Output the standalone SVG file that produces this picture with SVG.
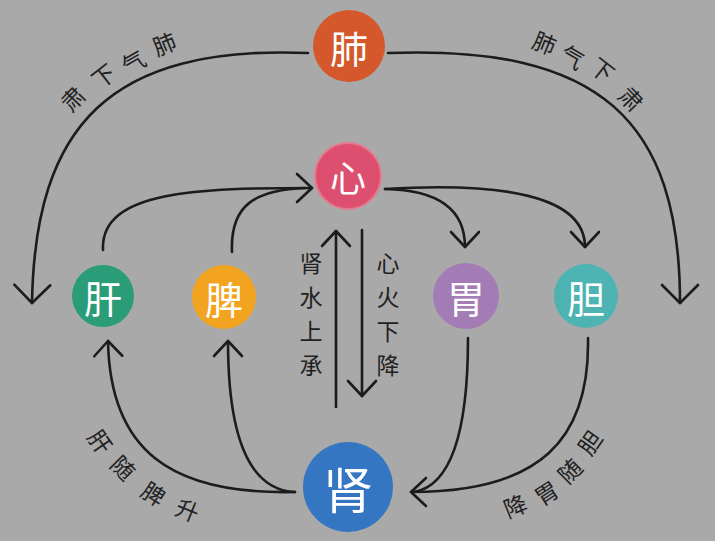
<svg xmlns="http://www.w3.org/2000/svg" width="715" height="541" viewBox="0 0 715 541">
<defs>
<style>
.bg{fill:#a9a9a9}
.ln{fill:none;stroke:#1c1c1c;stroke-width:2.6;stroke-linecap:round}
.nt{fill:#ffffff;font-family:"Noto Sans CJK SC","Noto Sans",sans-serif;text-anchor:middle;dominant-baseline:central}
.lb{fill:#222222;font-family:"Noto Sans CJK SC","Noto Sans",sans-serif;text-anchor:middle;dominant-baseline:central;font-size:23px}
.vl{fill:#222222;font-family:"Noto Sans CJK SC","Noto Sans",sans-serif;text-anchor:middle;dominant-baseline:central;font-size:23px}
</style>
<marker id="arr" markerUnits="userSpaceOnUse" markerWidth="40" markerHeight="40" viewBox="-20 -20 40 40" refX="0" refY="0" orient="auto" overflow="visible">
<path d="M -15 -14 L 0 0 L -15 14" fill="none" stroke="#1c1c1c" stroke-width="2.6" stroke-linecap="round" stroke-linejoin="round"/>
</marker>
<marker id="arrL" markerUnits="userSpaceOnUse" markerWidth="50" markerHeight="50" viewBox="-25 -25 50 50" refX="0" refY="0" orient="auto" overflow="visible">
<path d="M -18 -18 L 0 0 L -18 18" fill="none" stroke="#1c1c1c" stroke-width="2.6" stroke-linecap="round" stroke-linejoin="round"/>
</marker>
</defs>
<rect class="bg" x="0" y="0" width="715" height="541"/>

<g id="connectors">
<path class="ln" d="M 308 53 C 110 45, 35 125, 32 303" marker-end="url(#arrL)"/>
<path class="ln" d="M 388 53 C 600 45, 680 120, 680 303" marker-end="url(#arrL)"/>
<path class="ln" d="M 103 250 C 100 190, 200 188, 312 188" marker-end="url(#arr)"/>
<path class="ln" d="M 232 252 C 230 205, 255 190, 305 188"/>
<path class="ln" d="M 385 189 C 440 190, 465 210, 465 247" marker-end="url(#arr)"/>
<path class="ln" d="M 385 189 C 500 182, 585 195, 585 247" marker-end="url(#arr)"/>
<path class="ln" d="M 336 407 L 336 231" marker-end="url(#arr)"/>
<path class="ln" d="M 362 230 L 362 396" marker-end="url(#arr)"/>
<path class="ln" d="M 468 338 C 468 420, 455 485, 414 492"/>
<path class="ln" d="M 588 338 C 590 440, 540 492, 411 492" marker-end="url(#arr)"/>
<path class="ln" d="M 295 492 C 170 495, 110 450, 108 341" marker-end="url(#arr)"/>
<path class="ln" d="M 295 492 C 250 490, 228 440, 228 341" marker-end="url(#arr)"/>
</g>

<g id="labels">
<text class="lb" transform="translate(164 43) rotate(-22)">肺</text>
<text class="lb" transform="translate(133 61) rotate(-30)">气</text>
<text class="lb" transform="translate(103 75) rotate(-38)">下</text>
<text class="lb" transform="translate(72 98) rotate(-46)">肃</text>

<text class="lb" transform="translate(545 42) rotate(22)">肺</text>
<text class="lb" transform="translate(573 56) rotate(30)">气</text>
<text class="lb" transform="translate(603 69) rotate(38)">下</text>
<text class="lb" transform="translate(632 98) rotate(46)">肃</text>

<text class="lb" transform="translate(101 441) rotate(55)">肝</text>
<text class="lb" transform="translate(124 467) rotate(45)">随</text>
<text class="lb" transform="translate(154 493) rotate(33)">脾</text>
<text class="lb" transform="translate(188 509) rotate(22)">升</text>

<text class="lb" transform="translate(589 442) rotate(-55)">胆</text>
<text class="lb" transform="translate(569 470) rotate(-45)">随</text>
<text class="lb" transform="translate(546 492) rotate(-33)">胃</text>
<text class="lb" transform="translate(515 505) rotate(-22)">降</text>

<text class="vl" x="311" y="262">肾</text>
<text class="vl" x="311" y="296">水</text>
<text class="vl" x="311" y="330">上</text>
<text class="vl" x="311" y="364">承</text>

<text class="vl" x="388" y="262">心</text>
<text class="vl" x="388" y="296">火</text>
<text class="vl" x="388" y="330">下</text>
<text class="vl" x="388" y="364">降</text>
</g>

<g id="node-fei">
<circle cx="349" cy="46" r="36" fill="#d4582b"/>
<text class="nt" x="349" y="46" font-size="38">肺</text>
</g>
<g id="node-xin">
<circle cx="348" cy="176" r="33" fill="#dc4f6e" stroke="#e67a90" stroke-width="2"/>
<text class="nt" x="348" y="176" font-size="36">心</text>
</g>
<g id="node-gan">
<circle cx="103" cy="296" r="31" fill="#2a9d78"/>
<text class="nt" x="103" y="296" font-size="38">肝</text>
</g>
<g id="node-pi">
<circle cx="224" cy="297" r="32" fill="#f2a31f"/>
<text class="nt" x="224" y="297" font-size="38">脾</text>
</g>
<g id="node-wei">
<circle cx="466" cy="296" r="33" fill="#a47cb5"/>
<text class="nt" x="466" y="296" font-size="38">胃</text>
</g>
<g id="node-dan">
<circle cx="586" cy="296" r="32" fill="#4db3b3"/>
<text class="nt" x="586" y="296" font-size="38">胆</text>
</g>
<g id="node-shen">
<circle cx="348" cy="487" r="45" fill="#3476c2"/>
<text class="nt" x="348" y="487" font-size="50">肾</text>
</g>
</svg>
